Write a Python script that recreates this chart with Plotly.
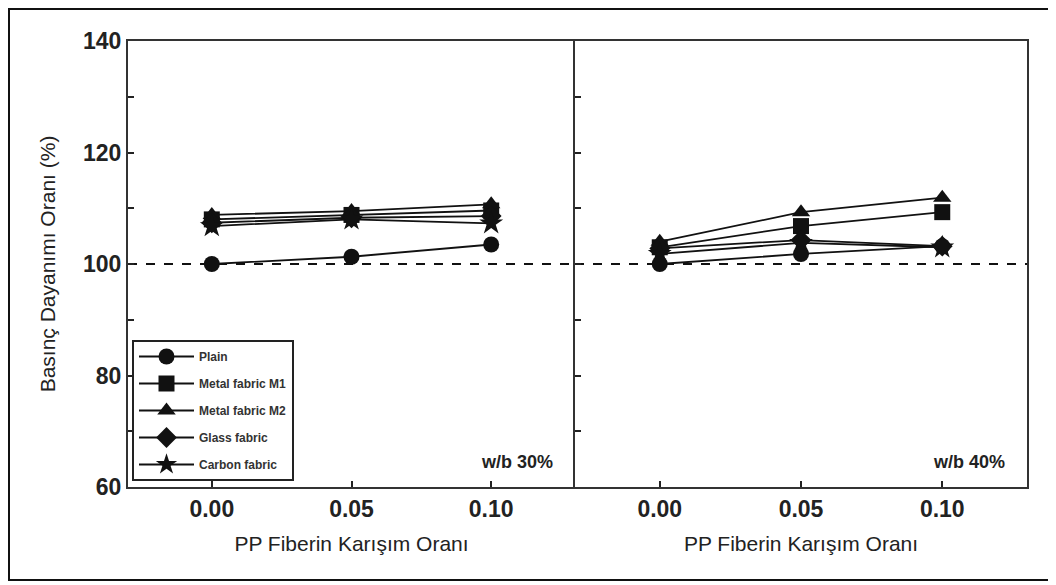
import plotly.graph_objects as go

# ---- data ----
x_ratio = [0.00, 0.05, 0.10]
series_names = ["Plain", "Metal fabric M1", "Metal fabric M2", "Glass fabric", "Carbon fabric"]
symbols = ["circle", "square", "triangle-up", "diamond", "star"]

plain_30 = [100.0, 101.3, 103.5]
m1_30 = [108.0, 108.8, 109.6]
m2_30 = [108.8, 109.5, 110.7]
glass_30 = [107.4, 108.3, 108.6]
carbon_30 = [106.8, 108.0, 107.3]

plain_40 = [100.0, 101.8, 103.2]
m1_40 = [103.0, 106.8, 109.3]
m2_40 = [104.0, 109.3, 111.9]
glass_40 = [102.8, 104.3, 103.2]
carbon_40 = [101.8, 103.8, 103.0]

wb30 = [plain_30, m1_30, m2_30, glass_30, carbon_30]
wb40 = [plain_40, m1_40, m2_40, glass_40, carbon_40]

x_ticks = [0.00, 0.05, 0.10]
x_tick_text = ["0.00", "0.05", "0.10"]
y_ticks = [60, 80, 100, 120, 140]

x_title = "PP Fiberin Karışım Oranı"
y_title = "Basınç Dayanımı Oranı (%)"
panel_labels = ["w/b 30%", "w/b 40%"]

# ---- layout geometry (page body has an 8px margin) ----
OFF = 8
W, H = 1044, 575
L = 128 - OFF
T = 41 - OFF
R = W - (1027 - OFF)
B = H - (487 - OFF)
pw = W - L - R
ph = H - T - B
split = (575 - 128) / pw

fig = go.Figure()
# draw Plain last so it sits on top, keep legend order with legendrank
draw_order = [1, 2, 3, 4, 0]
for i in draw_order:
    name = series_names[i]
    for vals, xa, ya, show in [(wb30[i], "x", "y", True), (wb40[i], "x2", "y2", False)]:
        fig.add_trace(go.Scatter(
            x=x_ratio, y=vals, mode="lines+markers", name=f"<b>{name}</b>",
            xaxis=xa, yaxis=ya, legendgroup=name, showlegend=show, legendrank=i + 1,
            line=dict(color="#111", width=1.8),
            marker=dict(symbol=symbols[i], size=16 if symbols[i] != "star" else 18,
                        color="#111", line=dict(width=0)),
        ))

tickfont = dict(family="Liberation Sans", size=23, color="#222", weight="bold")
titlefont = dict(family="Liberation Sans", size=21, color="#222")
xcommon = dict(range=[-0.03, 0.13], tickvals=x_ticks, ticktext=x_tick_text,
               ticks="inside", ticklen=6, tickwidth=1.5, tickcolor="#222",
               showline=True, linecolor="#333", linewidth=2, mirror=True,
               showgrid=False, zeroline=False, tickfont=tickfont,
               title=dict(text=x_title, font=titlefont, standoff=16))
ycommon = dict(range=[60, 140], tickvals=y_ticks, ticks="inside", ticklen=6, tickwidth=1.5,
               tickcolor="#222", showline=True, linecolor="#333", linewidth=2,
               minor=dict(ticks="inside", ticklen=6, dtick=10, tickcolor="#222", tickwidth=1.5),
               showgrid=False, zeroline=False)
fig.update_layout(
    width=W, height=H, margin=dict(l=L, r=R, t=T, b=B),
    paper_bgcolor="white", plot_bgcolor="white",
    xaxis=dict(domain=[0, split], anchor="y", **xcommon),
    xaxis2=dict(domain=[split, 1], anchor="y2", **xcommon),
    yaxis=dict(anchor="x", mirror=False, tickfont=tickfont,
               title=dict(text=y_title, font=titlefont, standoff=22), **ycommon),
    yaxis2=dict(anchor="x2", mirror=True, showticklabels=False, matches="y", **ycommon),
    legend=dict(x=(132 - 128) / pw, y=(487 - 340) / ph, xanchor="left", yanchor="top",
                bgcolor="white", bordercolor="#222", borderwidth=2,
                font=dict(family="Liberation Sans", size=12, color="#333"),
                tracegroupgap=8, traceorder="grouped", itemwidth=55),
    showlegend=True,
)

# dashed reference line at 100 %
for xr, yr in [("x", "y"), ("x2", "y2")]:
    fig.add_shape(type="line", xref=f"{xr} domain", yref=yr, x0=0, x1=1, y0=100, y1=100,
                  line=dict(color="#111", width=2, dash="dash"), layer="below")

# panel labels
for xr, yr, txt in [("x", "y", panel_labels[0]), ("x2", "y2", panel_labels[1])]:
    fig.add_annotation(xref=f"{xr} domain", yref=f"{yr} domain", x=0.955, y=0.056,
                       xanchor="right", yanchor="middle", showarrow=False,
                       text=f"<b>{txt}</b>", font=dict(family="Liberation Sans", size=18, color="#222"))

# outer frame
fig.add_shape(type="rect", xref="paper", yref="paper",
              x0=(1 - L) / pw, x1=(1049 - OFF - L) / pw,
              y0=-(580 - 487) / ph, y1=(487 - OFF - 1) / ph,
              line=dict(color="#111", width=2))

fig.write_html("out.html")
